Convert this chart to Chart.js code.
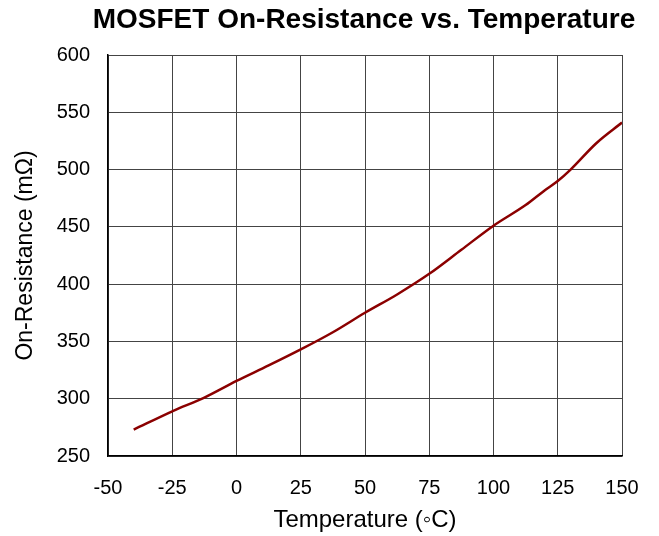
<!DOCTYPE html>
<html>
<head>
<meta charset="utf-8">
<script src="https://cdn.jsdelivr.net/npm/chart.js@4"></script>
<style>
  html, body { margin: 0; padding: 0; background: #fff; }
  #wrap { width: 659px; height: 536px; }
</style>
</head>
<body>
<div id="wrap"><canvas id="myChart"></canvas></div>
<script>
// * Temperature (°C) and on-resistance (mΩ)
const temperatures = [-40, -25, -12.5, 0, 12.5, 25, 37.5, 50, 62.5, 75, 87.5, 100, 112.5, 120, 125, 130, 140, 150];
const resistance = [273, 289, 301, 315.5, 329, 343, 358, 375, 391, 409, 430, 451, 469, 482, 490, 500, 523, 541];
const xTicks = [-50, -25, 0, 25, 50, 75, 100, 125, 150];
const yTicks = [250, 300, 350, 400, 450, 500, 550, 600];
const chartTitle = "MOSFET On-Resistance vs. Temperature";

const points = temperatures.map((t, i) => ({ x: t, y: resistance[i] }));

Chart.defaults.font.family = "'Liberation Sans', Arial, sans-serif";
Chart.defaults.color = "#000";

// * Title drawn centred over the plot area, wider than the plot itself
const titlePlugin = {
    id: "wideTitle",
    afterDraw(chart) {
        const { ctx, chartArea } = chart;
        ctx.save();
        ctx.font = "bold 28px 'Liberation Sans', Arial, sans-serif";
        ctx.fillStyle = "#000";
        ctx.textAlign = "center";
        ctx.textBaseline = "middle";
        ctx.fillText(chartTitle, (chartArea.left + chartArea.right) / 2 - 1, 20);
        ctx.restore();
    },
};

const config = {
    type: "line",
    data: {
        datasets: [
            {
                data: points,
                borderColor: "#8b0000",
                borderWidth: 2.5,
                pointRadius: 0,
                tension: 0.3,
                cubicInterpolationMode: "monotone",
                fill: false,
            },
        ],
    },
    options: {
        responsive: true,
        maintainAspectRatio: false,
        animation: false,
        layout: { padding: { left: 0, right: 37, top: 55, bottom: 0 } },
        plugins: {
            legend: { display: false },
            tooltip: { enabled: false },
            title: { display: false },
        },
        scales: {
            x: {
                type: "linear",
                min: -50,
                max: 150,
                afterBuildTicks: (axis) => {
                    axis.ticks = xTicks.map((v) => ({ value: v }));
                },
                afterFit: (axis) => {
                    axis.height = 80;
                },
                grid: { color: "#444", lineWidth: 1, drawTicks: false },
                border: { color: "#000", width: 1.5 },
                ticks: { font: { size: 20 }, padding: 20, maxRotation: 0 },
                title: {
                    display: true,
                    text: "Temperature (\u25E6C)",
                    font: { size: 24 },
                    padding: { top: 0, bottom: 1 },
                },
            },
            y: {
                min: 250,
                max: 600,
                afterBuildTicks: (axis) => {
                    axis.ticks = yTicks.map((v) => ({ value: v }));
                },
                afterFit: (axis) => {
                    axis.width = 108;
                },
                grid: { color: "#444", lineWidth: 1, drawTicks: false },
                border: { color: "#000", width: 1.5 },
                ticks: { font: { size: 20 }, padding: 18 },
                title: {
                    display: true,
                    text: "On-Resistance (m\u03A9)",
                    font: { size: 23 },
                    padding: { top: 12, bottom: 0 },
                },
            },
        },
    },
    plugins: [titlePlugin],
};

const ctx = document.getElementById("myChart").getContext("2d");
const chart = new Chart(ctx, config);
</script>
</body>
</html>
